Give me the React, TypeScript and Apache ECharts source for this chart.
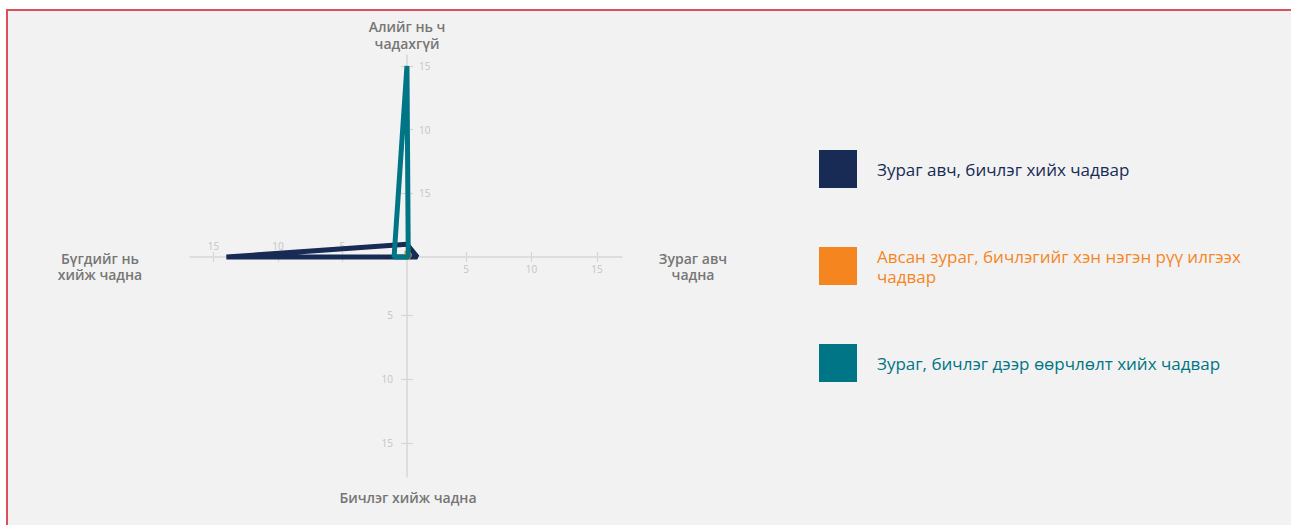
import React, { useEffect, useRef } from "react";
import * as echarts from "echarts";

// Axis directions: top, right, bottom, left
const axisNames = ["Алийг нь ч\nчадахгүй", "Зураг авч\nчадна", "Бичлэг хийж чадна", "Бүгдийг нь\nхийж чадна"];
const seriesNames = [
  "Зураг авч, бичлэг хийх чадвар",
  "Авсан зураг, бичлэгийг хэн нэгэн рүү илгээх чадвар",
  "Зураг, бичлэг дээр өөрчлөлт хийх чадвар",
];
const legendLabels = [
  "Зураг авч, бичлэг хийх чадвар",
  "Авсан зураг, бичлэгийг хэн нэгэн рүү илгээх\nчадвар",
  "Зураг, бичлэг дээр өөрчлөлт хийх чадвар",
];
const seriesColors = ["#172b55", "#f5861f", "#007585"];
// values per series: [top, right, bottom, left]
const navyValues = [1, 0.8, 0, 14];
const orangeValues = [0.5, 0.2, 0, 0];
const tealValues = [15, 0.1, 0, 1];
const allValues = [navyValues, orangeValues, tealValues];

const tickValues = [5, 10, 15];
const topTickLabels = ["15", "10", "15"];
const rightTickLabels = ["5", "10", "15"];
const bottomTickLabels = ["15", "10", "5"]; // for -15, -10, -5
const leftTickLabels = ["15", "10", "5"]; // for -15, -10, -5

const AXIS_COLOR = "#d6d6d6";
const LABEL_COLOR = "#c4c4c4";

function polygon(v: number[]) {
  return [
    [0, v[0]],
    [v[1], 0],
    [0, -v[2]],
    [-v[3], 0],
    [0, v[0]],
  ];
}

function axis(opts: any) {
  const { position, min, max, ticks, labels, showLine, tickLen, margin, offset } = opts;
  return {
    type: "value",
    position,
    offset,
    min,
    max,
    axisLine: {
      show: true,
      onZero: false,
      lineStyle: { color: AXIS_COLOR, width: 1.5, opacity: showLine ? 1 : 0 },
    },
    axisTick: {
      show: true,
      length: tickLen,
      customValues: ticks,
      lineStyle: { color: AXIS_COLOR, width: 1.2 },
    },
    axisLabel: labels
      ? {
          show: true,
          customValues: ticks,
          margin,
          color: LABEL_COLOR,
          fontSize: 10,
          fontFamily: "Open Sans",
          formatter: (val: number) => {
            const i = ticks.indexOf(val);
            return i >= 0 ? labels[i] : "";
          },
        }
      : { show: false },
    splitLine: { show: false },
    minorTick: { show: false },
  };
}

export default function App() {
  const ref = useRef<HTMLDivElement>(null);
  useEffect(() => {
    const chart = echarts.init(ref.current!, null, { renderer: "svg" });
    const negTicks = tickValues.map((t) => -t).reverse(); // -15,-10,-5
    const xNeg = { min: -16.82, max: 16.67 };
    const xPos = { min: -16.07, max: 16.91 };
    const yPos = { min: -17.27, max: 15.86 };
    const yNeg = { min: -17.61, max: 15.23 };
    // grid: left 190, right edge 622, top 55, bottom edge 477; centre (407, 257)
    const offTop = -(257 - 55);
    const offBottom = -(477 - 257);
    const offLeft = -(407 - 190);
    const offRight = -(622 - 407);
    const nameFont = "600 14px 'Open Sans'";
    const option: any = {
      animation: false,
      backgroundColor: "transparent",
      grid: { left: 190, right: 669, top: 55, bottom: 48, outerBoundsMode: "none", containLabel: false },
      xAxis: [
        axis({ position: "top", offset: offTop, ...xNeg, ticks: negTicks, labels: leftTickLabels, showLine: true, tickLen: 5, margin: 6 }),
        axis({ position: "bottom", offset: offBottom, ...xNeg, ticks: negTicks, labels: null, showLine: false, tickLen: 5 }),
        axis({ position: "bottom", offset: offBottom, ...xPos, ticks: tickValues, labels: rightTickLabels, showLine: false, tickLen: 5, margin: 7 }),
        axis({ position: "top", offset: offTop, ...xPos, ticks: tickValues, labels: null, showLine: false, tickLen: 5 }),
      ],
      yAxis: [
        axis({ position: "right", offset: offRight, ...yPos, ticks: tickValues, labels: topTickLabels, showLine: true, tickLen: 6, margin: 12 }),
        axis({ position: "left", offset: offLeft, ...yPos, ticks: tickValues, labels: null, showLine: false, tickLen: 6 }),
        axis({ position: "left", offset: offLeft, ...yNeg, ticks: negTicks, labels: bottomTickLabels, showLine: false, tickLen: 6, margin: 14 }),
        axis({ position: "right", offset: offRight, ...yNeg, ticks: negTicks, labels: null, showLine: false, tickLen: 6 }),
      ],
      legend: {
        orient: "vertical",
        left: 819,
        top: 150,
        padding: 0,
        itemWidth: 38,
        itemHeight: 38,
        itemGap: 58,
        icon: "rect",
        formatter: (name: string) => legendLabels[seriesNames.indexOf(name)],
        textStyle: { fontFamily: "Open Sans", fontSize: 17, lineHeight: 20, padding: [0, 0, 0, 15] },
        data: seriesNames.map((n, i) => ({
          name: n,
          icon: "rect",
          itemStyle: { color: seriesColors[i] },
          textStyle: { color: seriesColors[i] },
        })),
      },
      graphic: [
        { type: "text", x: 407, y: 18, style: { text: axisNames[0], align: "center", verticalAlign: "top", fill: "#767676", font: nameFont, lineHeight: 17 } },
        { type: "text", x: 693, y: 250, style: { text: axisNames[1], align: "center", verticalAlign: "top", fill: "#767676", font: nameFont, lineHeight: 16 } },
        { type: "text", x: 408, y: 489, style: { text: axisNames[2], align: "center", verticalAlign: "top", fill: "#767676", font: nameFont, lineHeight: 16 } },
        { type: "text", x: 100, y: 250, style: { text: axisNames[3], align: "center", verticalAlign: "top", fill: "#767676", font: nameFont, lineHeight: 16 } },
      ],
      series: allValues.map((v, i) => ({
        name: seriesNames[i],
        type: "line",
        xAxisIndex: 0,
        yAxisIndex: 0,
        data: polygon(v),
        symbol: "none",
        color: seriesColors[i],
        lineStyle: { width: 5, color: seriesColors[i], join: "bevel" },
        z: 3 + i,
      })),
    };
    chart.setOption(option);
    return () => chart.dispose();
  }, []);
  return (
    <div style={{ position: "fixed", left: 0, top: 0, width: 1291, height: 525, background: "#ffffff", overflow: "hidden" }}>
      <div
        style={{
          position: "absolute",
          left: 6,
          top: 9,
          width: 1400,
          height: 600,
          borderTop: "2px solid #de4f5d",
          borderLeft: "2px solid #de4f5d",
          background: "#f2f2f2",
        }}
      />
      <div ref={ref} style={{ position: "absolute", left: 0, top: 0, width: 1291, height: 525 }} />
    </div>
  );
}
